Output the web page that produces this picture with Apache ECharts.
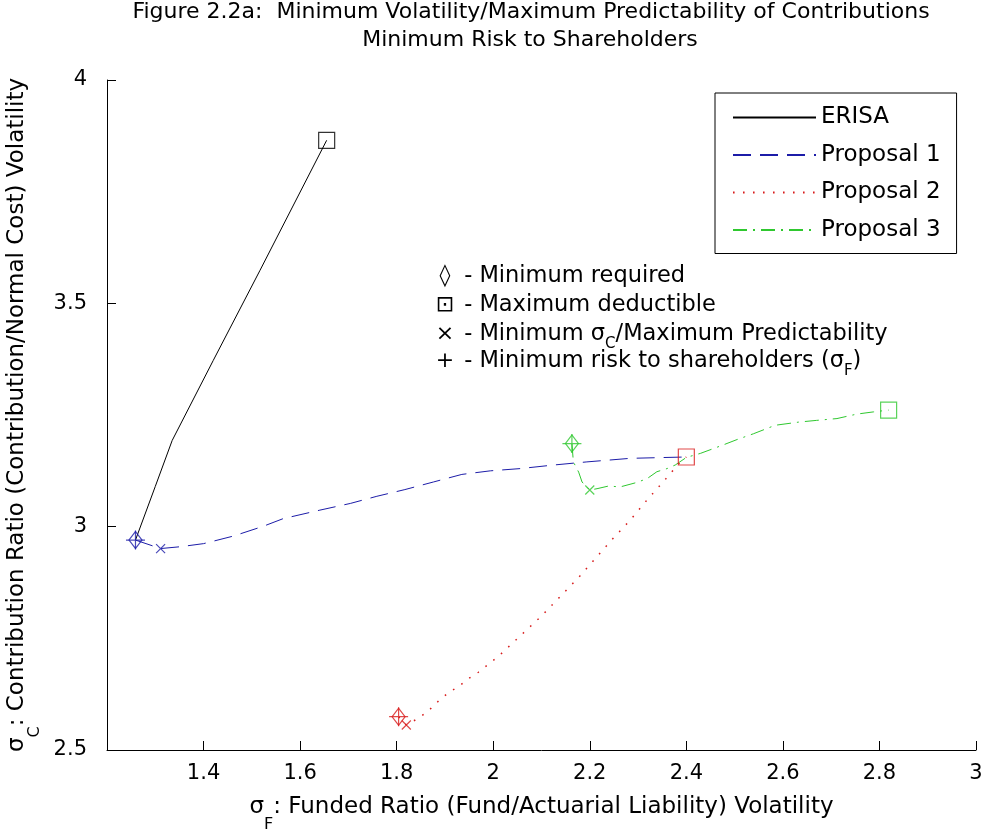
<!DOCTYPE html>
<html><head><meta charset="utf-8">
<script src="https://cdn.jsdelivr.net/npm/echarts@6/dist/echarts.min.js"></script>
<style>html,body{margin:0;padding:0;background:#fff}#chart{width:986px;height:829px}</style>
</head><body><div id="chart"></div>
<script>
// ---------- data ----------
const titleLines = ['Figure 2.2a:  Minimum Volatility/Maximum Predictability of Contributions', 'Minimum Risk to Shareholders'];
const seriesNames = ['ERISA', 'Proposal 1', 'Proposal 2', 'Proposal 3'];
const xRange = [1.2, 3.0];
const xStep = 0.2;
const yRange = [2.5, 4.0];
const yStep = 0.5;

const erisa = [[1.259,2.970],[1.300,3.090],[1.335,3.193],[1.420,3.372],[1.517,3.574],[1.655,3.865]];
const proposal1 = [[1.259,2.970],[1.311,2.951],[1.351,2.955],[1.400,2.962],[1.462,2.979],[1.524,3.001],[1.565,3.018],[1.641,3.037],[1.704,3.052],[1.759,3.068],[1.817,3.083],[1.876,3.100],[1.935,3.117],[1.994,3.125],[2.056,3.130],[2.125,3.138],[2.194,3.145],[2.284,3.153],[2.400,3.156]];
const proposal2 = [[1.804,2.5745],[1.820,2.556],[1.845,2.571],[1.866,2.588],[1.887,2.610],[1.907,2.628],[1.928,2.642],[1.949,2.660],[1.969,2.674],[1.990,2.692],[2.011,2.710],[2.100,2.800],[2.180,2.890],[2.246,2.971],[2.284,3.015],[2.318,3.059],[2.355,3.104],[2.391,3.149],[2.400,3.156]];
const proposal3 = [[2.163,3.186],[2.166,3.145],[2.177,3.122],[2.184,3.100],[2.200,3.082],[2.215,3.085],[2.239,3.091],[2.263,3.089],[2.294,3.098],[2.318,3.107],[2.339,3.123],[2.360,3.130],[2.377,3.138],[2.400,3.155],[2.429,3.164],[2.474,3.182],[2.505,3.195],[2.539,3.208],[2.584,3.227],[2.632,3.234],[2.670,3.238],[2.712,3.242],[2.753,3.252],[2.788,3.257],[2.819,3.261]];

// visible marker points, one per series in seriesNames order (null = hidden under another marker)
const minRequired = [null,[1.259,2.970],[1.804,2.5745],[2.163,3.186]];
const maxDeductible = [[1.655,3.865],null,[2.400,3.156],[2.819,3.261]];
const minSigmaC = [null,[1.311,2.951],[1.820,2.556],[2.200,3.082]];
const minRiskShareholders = [null,[1.259,2.970],[1.804,2.5745],[2.163,3.186]];

const noteSymbols = ['◊', '⊡', '×', '+'];
const noteTexts = [' - Minimum required', ' - Maximum deductible', ' - Minimum {t|σ}{s|C}{t|/Maximum Predictability}', ' - Minimum risk to shareholders ({t|σ}{s|F}{t|)}'];

// ---------- styles ----------
const FONT = 'DejaVu Sans';
const colors = ['#000000', '#1c1ca8', '#d81c1c', '#2fc82f'];
const dashes = ['solid', [18, 9], [1.6, 8.4], [14, 6, 2, 6]];
const widths = [1, 1, 1.5, 1];
const lineData = [erisa, proposal1, proposal2, proposal3];

const series = [];
lineData.forEach((d, i) => {
  series.push({
    name: seriesNames[i], type: 'line', data: d, showSymbol: false, symbol: 'none',
    lineStyle: { color: colors[i], width: widths[i], type: dashes[i] },
    itemStyle: { color: colors[i] }, silent: true, z: 2
  });
});
function markerSeries(name, points, symbol, size) {
  const data = [];
  points.forEach((p, i) => {
    if (!p) return;
    data.push({ value: p, itemStyle: { color: 'rgba(0,0,0,0)', borderColor: colors[i], borderWidth: 1.2 } });
  });
  return { name, type: 'scatter', symbol, symbolSize: size, data, silent: true, z: 3 };
}
series.push(markerSeries('Minimum required', minRequired, 'diamond', [13, 17]));
series.push(markerSeries('Maximum deductible', maxDeductible, 'rect', 16));
series.push(markerSeries('Minimum sigmaC', minSigmaC, 'path://M0,0L10,10M10,0L0,10', 9));
series.push(markerSeries('Minimum risk', minRiskShareholders, 'path://M5,0L5,10M0,5L10,5', 19));

const noteYs = [277, 306, 335, 362];
const NOTE_FS = 22.5;
const richNote = {
  sym: { fontFamily: FONT, fontSize: 22, width: 24, align: 'center', lineHeight: 24, verticalAlign: 'top', color: '#000' },
  t: { fontFamily: FONT, fontSize: NOTE_FS, lineHeight: 24, verticalAlign: 'top', color: '#000' },
  s: { fontFamily: FONT, fontSize: 15, lineHeight: 42, verticalAlign: 'middle', color: '#000' }
};
const graphic = noteSymbols.map((s, i) => {
  const body = noteTexts[i].split(/(\{[a-z]\|[^}]*\})/).filter(x => x).map(x => x.startsWith('{') ? x : '{t|' + x + '}').join('');
  return {
    type: 'text', x: 433, y: noteYs[i] - 12, silent: true,
    style: { text: '{sym|' + s + '}' + body, rich: richNote, verticalAlign: 'top', align: 'left', fill: '#000', fontFamily: FONT, fontSize: NOTE_FS }
  };
});

const nameRich = {
  m: { fontFamily: FONT, fontSize: 23, lineHeight: 26, verticalAlign: 'top', color: '#000' },
  s: { fontFamily: FONT, fontSize: 16, lineHeight: 58, verticalAlign: 'middle', color: '#000' }
};
const titleStyle = { fontSize: 22, fontWeight: 'normal', fontFamily: FONT, color: '#000', lineHeight: 24 };

const option = {
  animation: false,
  backgroundColor: '#fff',
  title: [
    { text: titleLines[0], left: 531, top: 0, textAlign: 'center', padding: 0, textStyle: titleStyle },
    { text: titleLines[1], left: 530, top: 28.5, textAlign: 'center', padding: 0, textStyle: titleStyle }
  ],
  grid: { left: 107, right: 10, top: 80, bottom: 79, containLabel: false, outerBoundsMode: 'none' },
  legend: {
    data: seriesNames, orient: 'vertical', left: 715, top: 93,
    padding: [13, 16, 12, 17], itemWidth: 83, itemHeight: 22, itemGap: 14.5,
    borderColor: '#000', borderWidth: 1, backgroundColor: '#fff',
    itemStyle: { opacity: 0 },
    textStyle: { fontFamily: FONT, fontSize: 23, color: '#000', lineHeight: 22 },
    selectedMode: false
  },
  xAxis: {
    type: 'value', min: xRange[0], max: xRange[1], interval: xStep,
    name: '{m|σ}{s|F}{m|: Funded Ratio (Fund/Actuarial Liability) Volatility}',
    nameLocation: 'middle', nameGap: 45.5, nameMoveOverlap: false,
    nameTextStyle: { rich: nameRich, fontFamily: FONT, fontSize: 23, color: '#000' },
    axisLine: { show: true, onZero: false, lineStyle: { color: '#000', width: 1 } },
    axisTick: { show: true, inside: true, length: 9, lineStyle: { color: '#000' } },
    axisLabel: { showMinLabel: false, margin: 13, fontFamily: FONT, fontSize: 21, color: '#000' },
    splitLine: { show: false }
  },
  yAxis: {
    type: 'value', min: yRange[0], max: yRange[1], interval: yStep,
    name: '{m|σ}{s|C}{m|: Contribution Ratio (Contribution/Normal Cost) Volatility}',
    nameLocation: 'middle', nameGap: 43, nameRotate: 90, nameMoveOverlap: false,
    nameTextStyle: { rich: nameRich, fontFamily: FONT, fontSize: 23, color: '#000' },
    axisLine: { show: true, onZero: false, lineStyle: { color: '#000', width: 1 } },
    axisTick: { show: true, inside: true, length: 9, lineStyle: { color: '#000' } },
    axisLabel: { margin: 20, fontFamily: FONT, fontSize: 21, color: '#000' },
    splitLine: { show: false }
  },
  graphic,
  series
};
const chart = echarts.init(document.getElementById('chart'), null, { renderer: 'canvas' });
chart.setOption(option);
</script>
</body></html>
